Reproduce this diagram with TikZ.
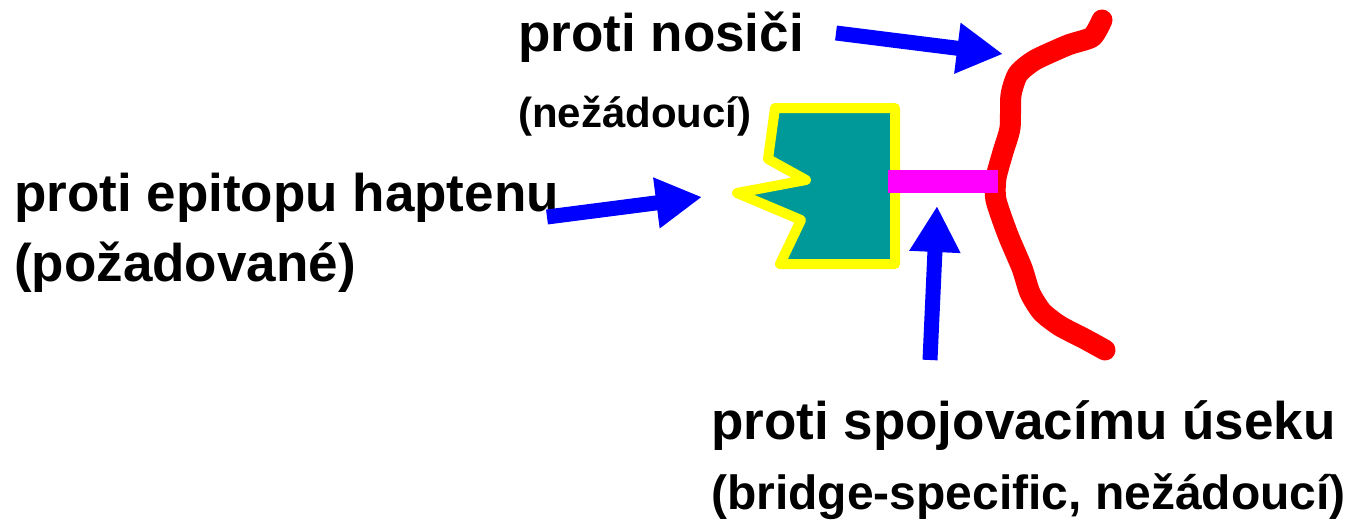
\documentclass[tikz,border=0pt]{standalone}
\usepackage{fontspec}
\setmainfont{Liberation Sans}
\usetikzlibrary{arrows.meta}

\definecolor{hapten}{RGB}{0,153,153}
\definecolor{haptenrim}{RGB}{255,255,0}
\definecolor{spacer}{RGB}{255,0,255}
\definecolor{chain}{RGB}{255,0,0}
\definecolor{pointer}{RGB}{0,0,255}

\begin{document}
\begin{tikzpicture}[
      x=1pt, y=-1pt,
      big/.style={anchor=base west, inner sep=0pt, font=\bfseries\fontsize{53}{60}\selectfont},
      note/.style={anchor=base west, inner sep=0pt, font=\bfseries\fontsize{42}{50}\selectfont},
      mid/.style={anchor=base west, inner sep=0pt, font=\bfseries\fontsize{48}{56}\selectfont},
      arrow/.style={-{Triangle[length=46pt, width=48pt]}, line width=15pt, pointer}
    ]
    \useasboundingbox (0,0) rectangle (1349,522);

    % labels
    \node[big] (carrier) at (518,51) {proti nosiči};
    \node[note] (unwanted) at (518,127) {(nežádoucí)};
    \node[big] (epitope) at (14,211) {proti epitopu haptenu};
    \node[big] (wanted) at (14,281) {(požadované)};
    \node[big] (bridge) at (711,439) {proti spojovacímu úseku};
    \node[mid] (bridgenote) at (711,509) {(bridge-specific, nežádoucí)};

    % carrier chain
    \draw[chain, line width=21pt, line cap=round, line join=round]
      plot[smooth, tension=0.4] coordinates {(1102,20) (1092,37) (1068,45) (1035,60)
        (1018,74) (1011,95) (1010,128) (1003,152) (996,178) (996,200) (1008,235)
        (1022,268) (1030,293) (1042,312) (1060,326) (1085,339) (1105,350)};

    % hapten
    \draw[haptenrim, fill=hapten, line width=10pt, line join=round]
      (775,108) -- (895,108) -- (895,264) -- (780,264) -- (801,220)
      -- (737,193) -- (806,180) -- (768,159) -- cycle;
    \fill[spacer] (888,170) rectangle (998,193);

    % arrow ends
    \coordinate (carriertip) at (1003,54);
    \coordinate (carriertail) at (836,33);
    \coordinate (haptentip) at (702,197);
    \coordinate (haptentail) at (547,217);
    \coordinate (bridgetip) at (937,206);
    \coordinate (bridgetail) at (930,360);

    \draw[arrow] (carriertail) -- (carriertip);
    \draw[arrow] (haptentail) -- (haptentip);
    \draw[arrow] (bridgetail) -- (bridgetip);
  \end{tikzpicture}
\end{document}
